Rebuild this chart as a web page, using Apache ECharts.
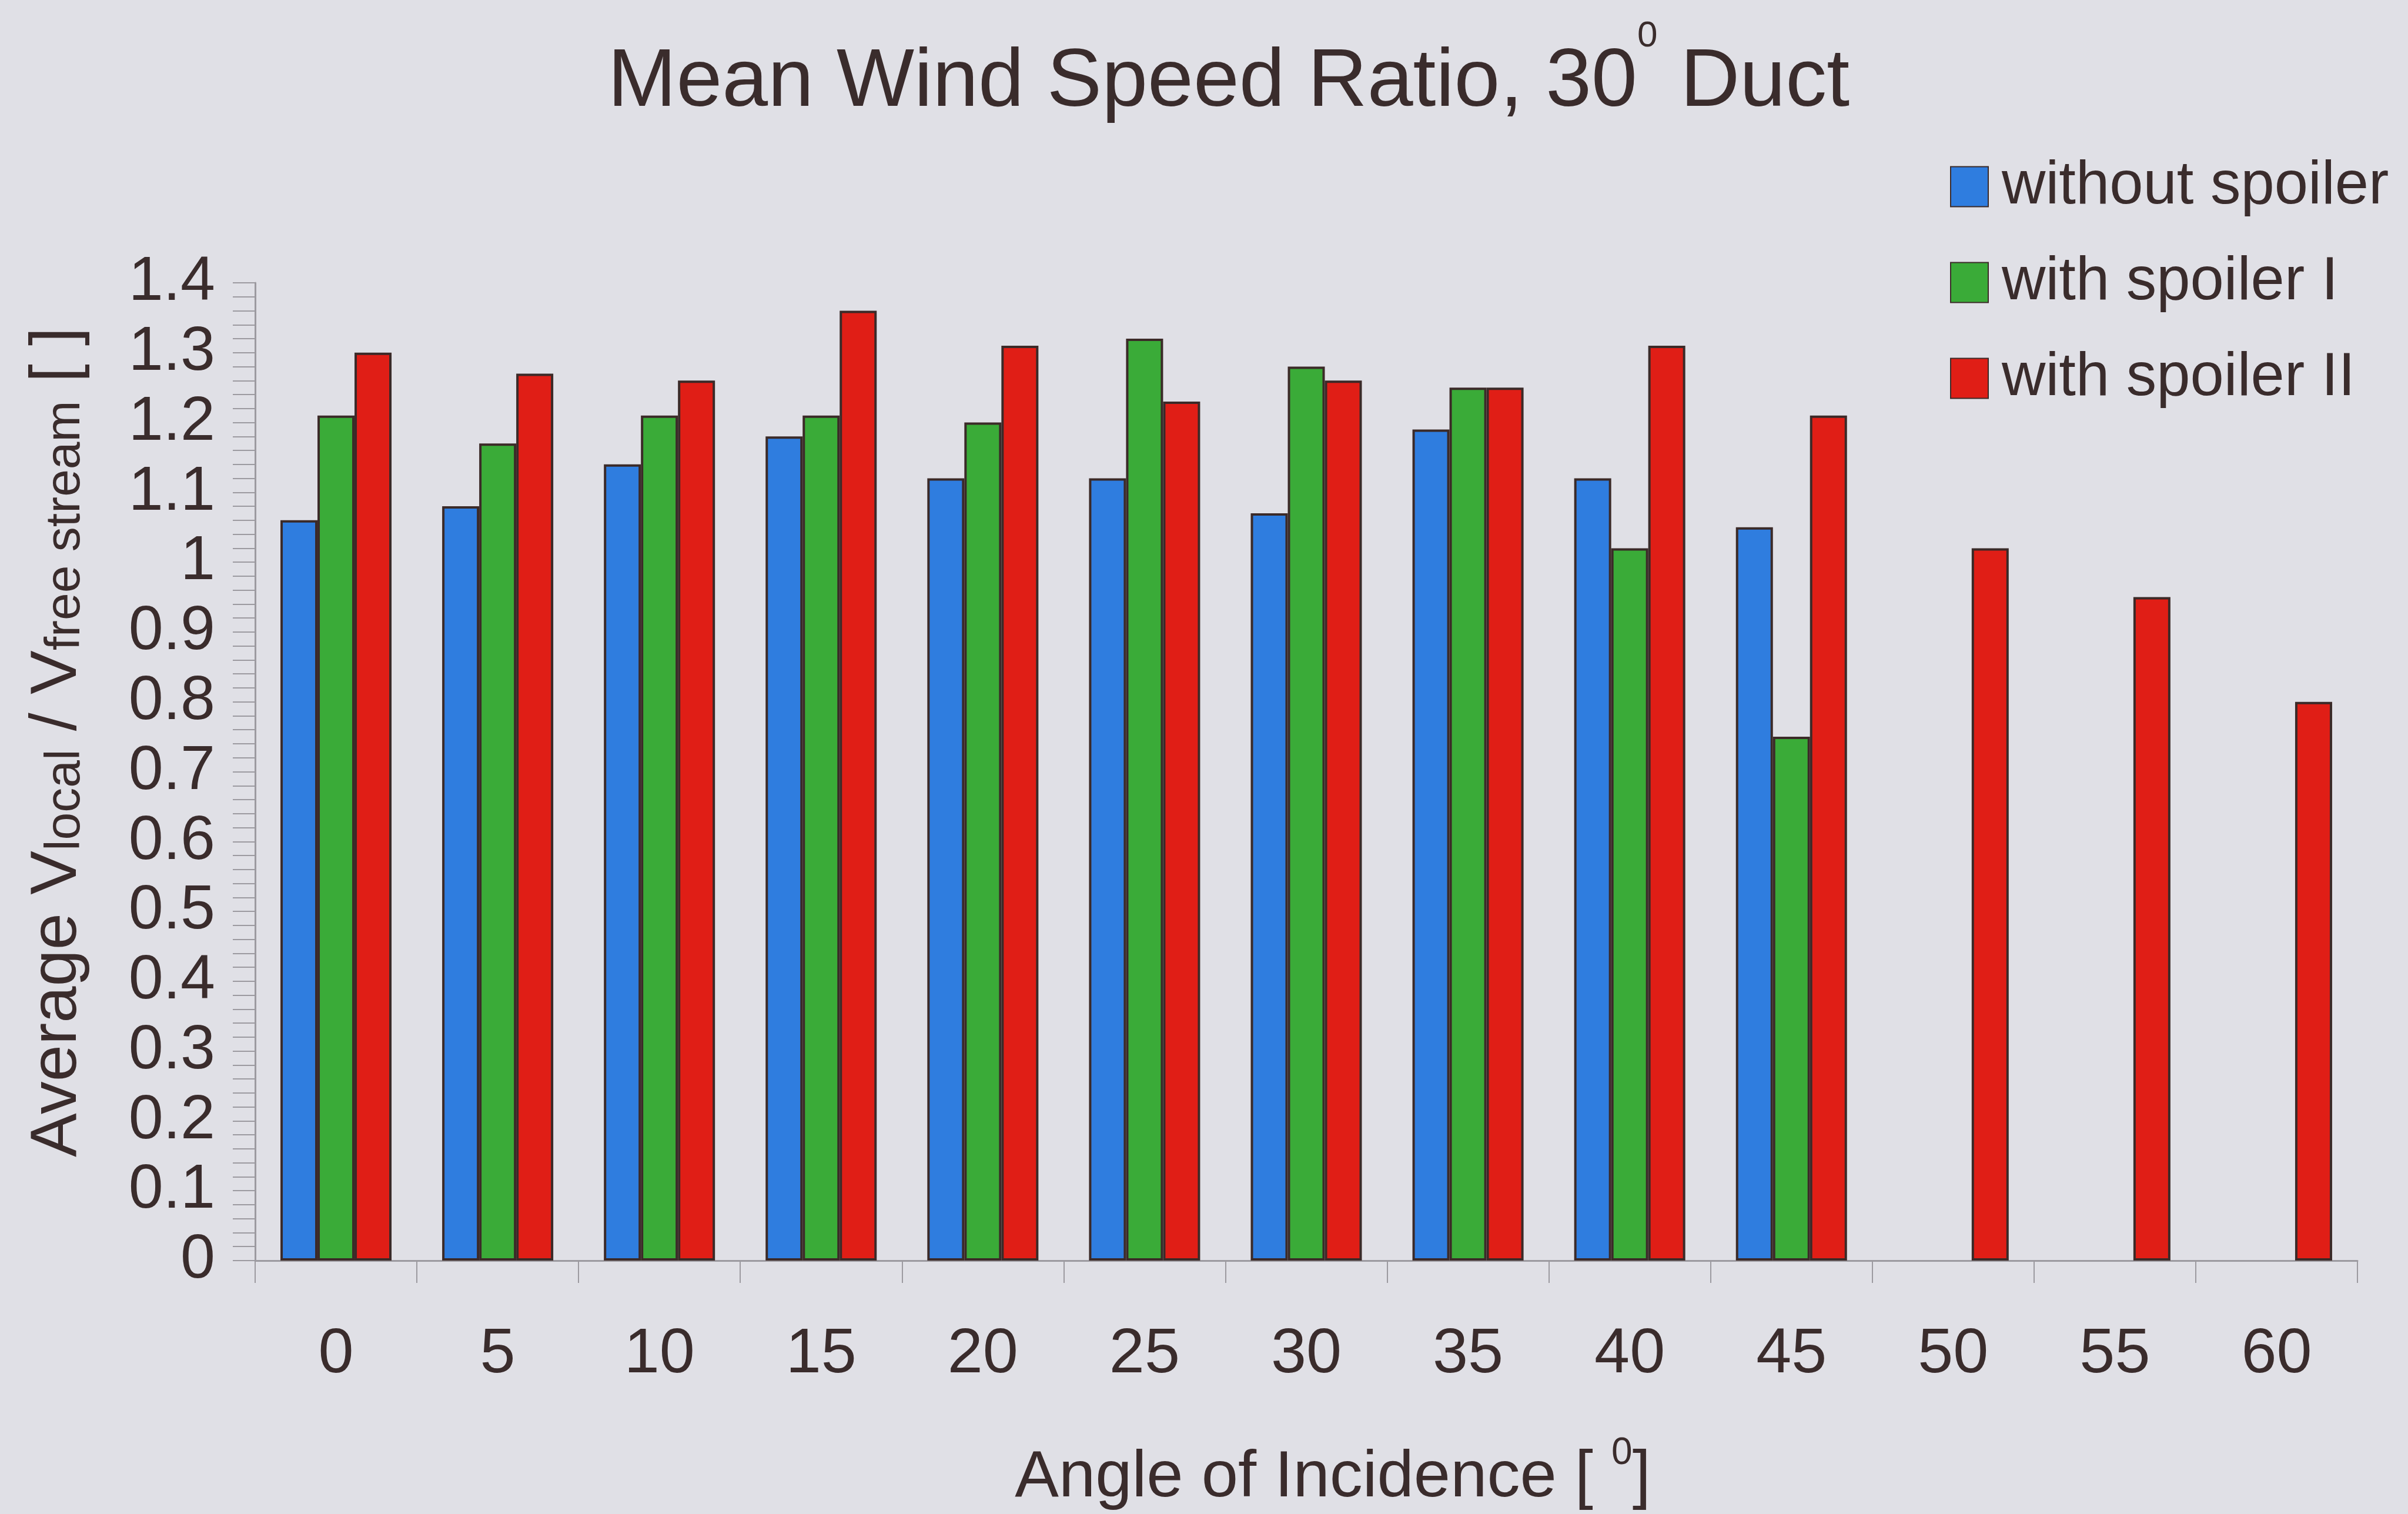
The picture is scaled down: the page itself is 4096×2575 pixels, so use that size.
<!DOCTYPE html>
<html>
<head>
<meta charset="utf-8">
<script src="https://cdn.jsdelivr.net/npm/echarts@6/dist/echarts.min.js"></script>
<style>
  html, body { margin: 0; padding: 0; background: #e0e0e6; }
  #chart { width: 4096px; height: 2575px; }
</style>
</head>
<body>
<div id="chart"></div>
<script>
// Angle of incidence (degrees)
const categories = ['0', '5', '10', '15', '20', '25', '30', '35', '40', '45', '50', '55', '60'];

// Mean wind speed ratio V_local / V_free stream
const withoutSpoiler = [1.06, 1.08, 1.14, 1.18, 1.12, 1.12, 1.07, 1.19, 1.12, 1.05, null, null, null];
const withSpoilerI   = [1.21, 1.17, 1.21, 1.21, 1.20, 1.32, 1.28, 1.25, 1.02, 0.75, null, null, null];
const withSpoilerII  = [1.30, 1.27, 1.26, 1.36, 1.31, 1.23, 1.26, 1.25, 1.31, 1.21, 1.02, 0.95, 0.80];

const seriesNames = ['without spoiler', 'with spoiler I', 'with spoiler II'];
const yTickLabels = ['0', '0.1', '0.2', '0.3', '0.4', '0.5', '0.6', '0.7', '0.8', '0.9', '1', '1.1', '1.2', '1.3', '1.4'];

const FONT = '"Liberation Sans", Arial, Helvetica, sans-serif';
const INK = '#3a2c2c';
const AXIS = '#9c9aa0';
const BORDER = '#3b2a28';

function barSeries(name, data, color) {
  return {
    name: name,
    type: 'bar',
    data: data,
    barWidth: 63,
    barGap: '0%',
    itemStyle: { color: color, borderColor: BORDER, borderWidth: 4 }
  };
}

const chart = echarts.init(document.getElementById('chart'), null, { renderer: 'canvas' });
chart.setOption({
  backgroundColor: '#e0e0e6',
  animation: false,
  textStyle: { fontFamily: FONT, color: INK },
  title: {
    text: '{t|Mean Wind Speed Ratio, 30}{p|0}{t| Duct}',
    left: 2090,
    top: 31,
    textAlign: 'center',
    padding: 0,
    textStyle: {
      fontWeight: 'normal',
      rich: {
        t: { fontFamily: FONT, fontSize: 140, fontWeight: 'normal', color: INK, lineHeight: 180, verticalAlign: 'bottom' },
        p: { fontFamily: FONT, fontSize: 62, fontWeight: 'normal', color: INK, lineHeight: 62, verticalAlign: 'top' }
      }
    }
  },
  legend: {
    orient: 'vertical',
    left: 3317,
    top: 266,
    padding: 0,
    icon: 'rect',
    itemWidth: 64,
    itemHeight: 68,
    itemGap: 60,
    textStyle: { fontFamily: FONT, fontSize: 103, color: INK, lineHeight: 68, padding: [0, 0, 0, 18] },
    data: seriesNames
  },
  grid: { left: 434, right: 86, top: 481, bottom: 415, containLabel: false },
  xAxis: {
    type: 'category',
    data: categories,
    boundaryGap: true,
    name: '{n|Angle of Incidence [ }{p|0}{n|]}',
    nameLocation: 'middle',
    nameGap: 296,
    nameTextStyle: {
      padding: [0, 0, 0, 90],
      rich: {
        n: { fontFamily: FONT, fontSize: 112, color: INK, lineHeight: 130, verticalAlign: 'bottom' },
        p: { fontFamily: FONT, fontSize: 64, color: INK, lineHeight: 64, verticalAlign: 'top' }
      }
    },
    axisLine: { show: true, lineStyle: { color: AXIS, width: 3 } },
    axisTick: { show: true, alignWithLabel: false, length: 38, lineStyle: { color: AXIS, width: 2 } },
    axisLabel: { fontFamily: FONT, fontSize: 108, color: INK, margin: 106 },
    splitLine: { show: false }
  },
  yAxis: {
    type: 'value',
    min: 0,
    max: 1.4,
    interval: 0.1,
    name: '{n|Average V}{s|local}{n| / V}{s|free stream}{n| [ ]}',
    nameLocation: 'middle',
    nameRotate: 90,
    nameGap: 280,
    nameTextStyle: {
      padding: [0, 0, 0, 100],
      rich: {
        n: { fontFamily: FONT, fontSize: 112, color: INK, lineHeight: 112, verticalAlign: 'bottom' },
        s: { fontFamily: FONT, fontSize: 84, color: INK, lineHeight: 34, verticalAlign: 'bottom' }
      }
    },
    axisLine: { show: true, lineStyle: { color: AXIS, width: 3 } },
    axisTick: { show: true, length: 38, lineStyle: { color: AXIS, width: 2 } },
    minorTick: { show: true, splitNumber: 5, length: 38, lineStyle: { color: AXIS, width: 2 } },
    axisLabel: {
      fontFamily: FONT, fontSize: 106, color: INK, margin: 68,
      formatter: function (v) { return yTickLabels[Math.round(v * 10)]; }
    },
    splitLine: { show: false }
  },
  series: [
    barSeries(seriesNames[0], withoutSpoiler, '#2f7ddf'),
    barSeries(seriesNames[1], withSpoilerI, '#3aab38'),
    barSeries(seriesNames[2], withSpoilerII, '#e01e16')
  ]
});
</script>
</body>
</html>
